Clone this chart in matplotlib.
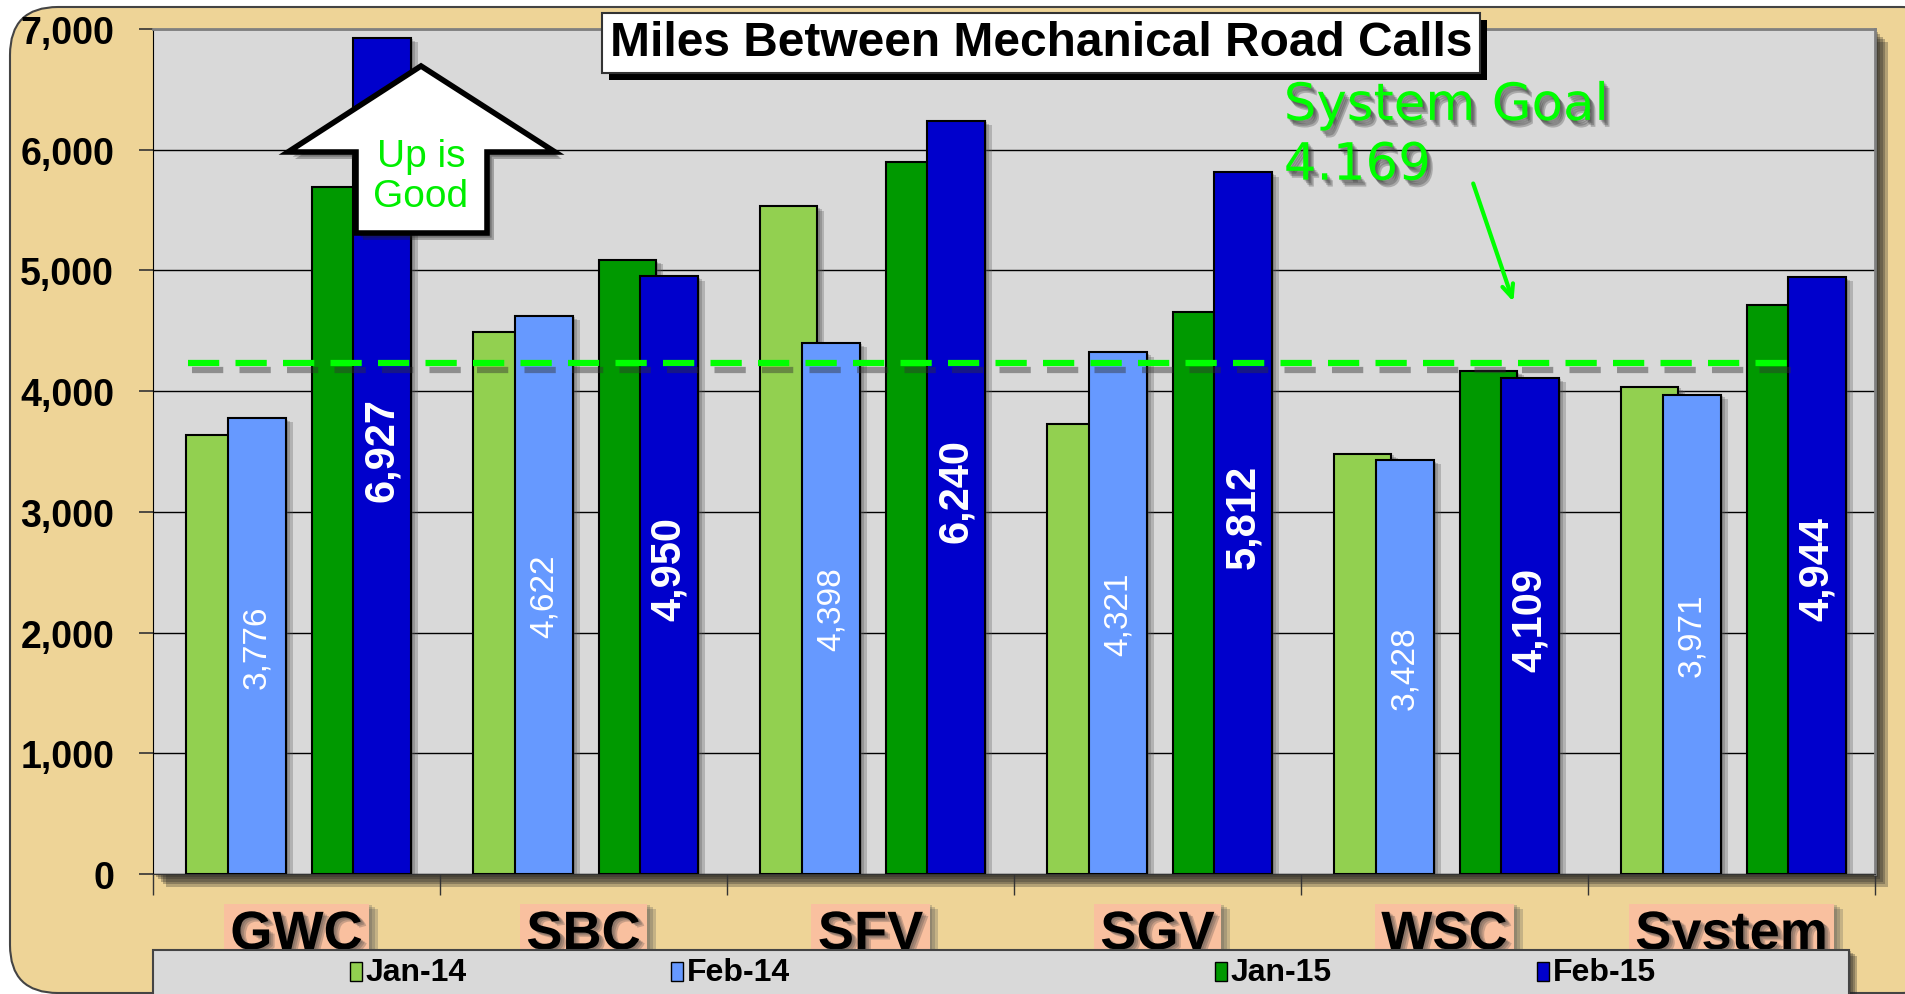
import numpy as np
import matplotlib
matplotlib.use("Agg")
import matplotlib.pyplot as plt
import matplotlib.patheffects as pe
from matplotlib.patches import FancyBboxPatch, Polygon, Rectangle
from matplotlib.transforms import Affine2D

# ---- data ----
categories = ["GWC", "SBC", "SFV", "SGV", "WSC", "System"]
series_names = ["Jan-14", "Feb-14", "Jan-15", "Feb-15"]
jan14 = [3640, 4490, 5530, 3725, 3480, 4035]
feb14 = [3776, 4622, 4398, 4321, 3428, 3971]
jan15 = [5690, 5085, 5900, 4655, 4165, 4715]
feb15 = [6927, 4950, 6240, 5812, 4109, 4944]
goal_text = "System Goal\n4.169"
goal_line_level = 4230
yticks = [0, 1000, 2000, 3000, 4000, 5000, 6000, 7000]

colors = ["#92D050", "#6699FF", "#009900", "#0000CC"]
offsets = [-0.285, -0.138, 0.153, 0.298]
bar_w = 0.2

font = "Liberation Sans"

W, H = 1905, 995
fig = plt.figure(figsize=(W / 100, H / 100), dpi=100)
fig.patch.set_facecolor("white")
# pixel coords, origin top-left
PX = Affine2D().scale(1 / W, -1 / H).translate(0, 1) + fig.transFigure


def soft_shadow(dx, dy, color="#333333", alpha=0.6, steps=4):
    fx = []
    for i in range(steps):
        f = (i + 1) / steps
        fx.append(pe.SimplePatchShadow(offset=(dx * f, dy * f), shadow_rgbFace=color,
                                       alpha=alpha / steps * 1.6))
    fx.append(pe.Normal())
    return fx


# tan rounded background
bg = FancyBboxPatch((10, 8), 1940, 986, boxstyle="round,pad=0,rounding_size=48",
                    transform=PX, facecolor="#EED497", edgecolor="#444444",
                    linewidth=1.5, zorder=-5)
fig.patches.append(bg)

ax = fig.add_axes([153 / W, (H - 875) / H, 1722 / W, 845 / H])
ax.set_facecolor("#D9D9D9")
ax.patch.set_path_effects(soft_shadow(9, -9, "#222222", 0.9, 5))
ax.set_axisbelow(True)

x = np.arange(len(categories))
all_series = [jan14, feb14, jan15, feb15]
bar_fx = soft_shadow(5, -3, "#555555", 0.55, 3)
for vals, off, col in zip(all_series, offsets, colors):
    bars = ax.bar(x + off, vals, bar_w, color=col, edgecolor="black", linewidth=1.5, zorder=3)
    for b in bars:
        b.set_path_effects(bar_fx)

# value labels on Feb bars
for xi, v in zip(x, feb14):
    ax.text(xi + offsets[1], v / 2, f"{v:,}", rotation=90, ha="center", va="center",
            color="white", fontsize=24, family=font, zorder=5)
for xi, v in zip(x, feb15):
    ax.text(xi + offsets[3], v / 2 + 60, f"{v:,}", rotation=90, ha="center", va="center",
            color="white", fontsize=30, fontweight="bold", family=font, zorder=5)

# goal line
ax.plot([-0.378, 5.21], [goal_line_level, goal_line_level], color="#00FF00", lw=4.5,
        dashes=(5, 2.6), zorder=6,
        path_effects=[pe.SimpleLineShadow(offset=(3, -5), shadow_color="#333333", alpha=0.45),
                      pe.Normal()])

ax.set_xlim(-0.5, 5.5)
ax.set_ylim(0, 7000)
ax.set_yticks(yticks)
ax.set_yticklabels([f"{t:,}" for t in yticks], fontsize=27, fontweight="bold", family=font)
ax.yaxis.grid(True, color="black", linewidth=1)
ax.tick_params(axis="y", length=10, width=1.2, pad=18, color="#333333")

ax.set_xticks(x)
ax.set_xticks(np.arange(-0.5, 6, 1), minor=True)
ax.set_xticklabels(categories, fontsize=39, fontweight="bold", family=font)
ax.tick_params(axis="x", which="major", length=0, pad=26)
ax.tick_params(axis="x", which="minor", length=15, width=1, color="#333333")
for lab in ax.get_xticklabels():
    lab.set_va("top")
    lab.set_bbox(dict(boxstyle="square,pad=0.12", facecolor="#F9C09F", edgecolor="none"))
    lab.get_bbox_patch().set_path_effects(soft_shadow(6, -4, "#555555", 0.5, 3))
    lab.set_path_effects(soft_shadow(4, -3, "#444444", 0.5, 3))

for s in ["top", "right"]:
    ax.spines[s].set_color("#808080")
    ax.spines[s].set_linewidth(2)
ax.spines["left"].set_color("black")
ax.spines["bottom"].set_color("#333333")

# title box
ttl = fig.text(1041 / W, 1 - 44 / H, "Miles Between Mechanical Road Calls", ha="center",
               va="center", fontsize=34.5, fontweight="bold", family=font, zorder=8)
ttl.set_bbox(dict(boxstyle="square,pad=0.16", facecolor="white", edgecolor="#333333", linewidth=1.5))
ttl.get_bbox_patch().set_path_effects([pe.SimplePatchShadow(offset=(5, -5), shadow_rgbFace="black",
                                                            alpha=1), pe.Normal()])

# "Up is Good" block arrow
arrow_pts = [(421, 67), (555, 153), (487, 153), (487, 234), (356, 234), (356, 153), (288, 153)]
arr = Polygon(arrow_pts, closed=True, transform=PX, facecolor="white", edgecolor="black",
              linewidth=4, joinstyle="miter", zorder=7)
arr.set_path_effects(soft_shadow(5, -5, "#222222", 0.6, 3))
fig.patches.append(arr)
fig.text(421 / W, 1 - 177 / H, "Up is\nGood", ha="center", va="center", color="#00EE00",
         fontsize=28, family=font, linespacing=1.15, zorder=9)

# system goal annotation
ax.text(3.44, 6570, goal_text, ha="left", va="top", color="#00FF00", fontsize=37,
        family="DejaVu Sans", linespacing=1.25, zorder=7,
        path_effects=soft_shadow(4, -5, "#333333", 0.7, 4))
ax.annotate("", xy=(4.24, 4740), xytext=(4.10, 5720),
            arrowprops=dict(arrowstyle="->,head_length=0.9,head_width=0.4", color="#00FF00",
                            lw=3, shrinkA=0, shrinkB=0), zorder=7)

# legend box at the bottom
leg = Rectangle((153, 951), 1696, 60, transform=PX, facecolor="#D9D9D9", edgecolor="#444444",
                linewidth=1.5, zorder=10)
leg.set_path_effects(soft_shadow(6, -4, "#222222", 0.7, 4))
fig.patches.append(leg)
leg_x = [350, 671, 1215, 1537]
for lx, name, col in zip(leg_x, series_names, colors):
    fig.patches.append(Rectangle((lx, 963), 12, 19, transform=PX, facecolor=col,
                                 edgecolor="black", linewidth=1, zorder=11))
    fig.text((lx + 16) / W, 1 - 973 / H, name, ha="left", va="center", fontsize=23,
             fontweight="bold", family=font, zorder=12)

fig.savefig("out.png", dpi=100)
